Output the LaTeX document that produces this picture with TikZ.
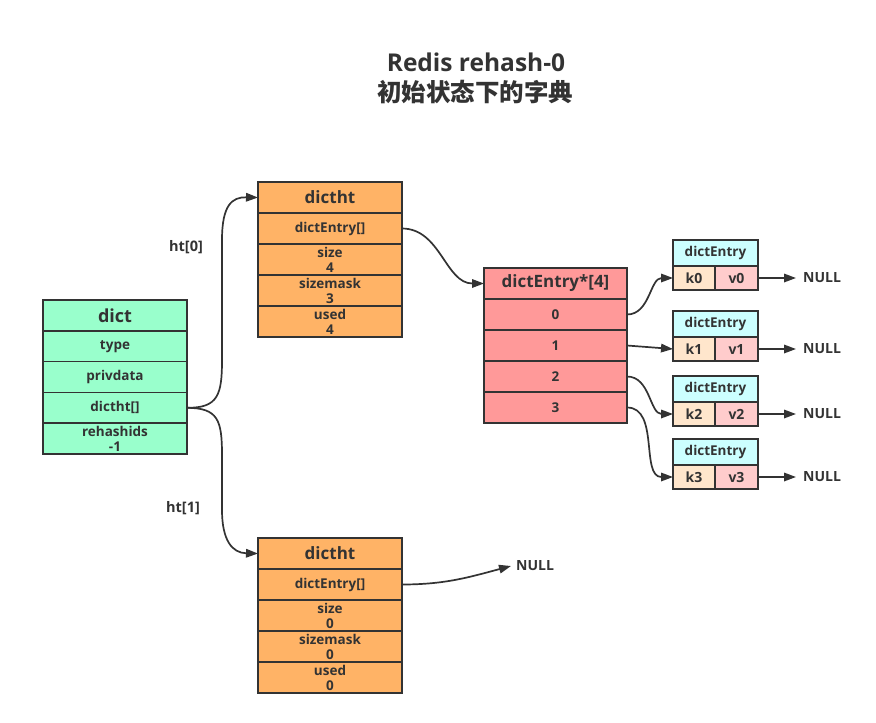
\documentclass[tikz,border=0pt]{standalone}
\usepackage{fontspec}
\setmainfont{Open Sans}
\newfontfamily\cjk{Noto Sans CJK SC}
\usetikzlibrary{arrows.meta}
\definecolor{lc}{HTML}{333333}
\definecolor{dictc}{HTML}{99FFCC}
\definecolor{htc}{HTML}{FFB366}
\definecolor{arrc}{HTML}{FF9999}
\definecolor{dec}{HTML}{CCFFFF}
\definecolor{kc}{HTML}{FFE6CC}
\definecolor{vc}{HTML}{FFCCCC}
\begin{document}
\begin{tikzpicture}[x=1pt,y=-1pt,
  cell/.style={draw=lc, line width=1.7pt, anchor=north west, inner sep=0pt, outer sep=0pt,
    text=lc, align=center, font=\bfseries\fontsize{13.5}{15}\selectfont},
  hdr/.style={font=\bfseries\fontsize{17}{19}\selectfont},
  dcell/.style={cell, fill=dictc, minimum width=144pt, minimum height=30.8pt},
  hcell/.style={cell, fill=htc, minimum width=144pt, minimum height=31pt},
  acell/.style={cell, fill=arrc, minimum width=143pt, minimum height=31pt},
  ecell/.style={cell, fill=dec, minimum width=85pt, minimum height=26pt, font=\bfseries\fontsize{13.5}{15}\selectfont},
  kcell/.style={cell, fill=kc, minimum width=42pt, minimum height=24pt, font=\bfseries\fontsize{14}{15}\selectfont},
  vcell/.style={cell, fill=vc, minimum width=43pt, minimum height=24pt, font=\bfseries\fontsize{14}{15}\selectfont},
  lbl/.style={text=lc, font=\bfseries\fontsize{14.5}{16}\selectfont, inner sep=2pt},
  nul/.style={text=lc, font=\bfseries\fontsize{14}{16}\selectfont, inner sep=0pt, anchor=west},
  conn/.style={draw=lc, line width=1.7pt, -{Triangle[length=12pt,width=8.5pt]}}
]
\useasboundingbox[fill=white] (0,0) rectangle (876,723);

% title
\node[text=lc, font=\bfseries\fontsize{24.5}{27}\selectfont] (t1) at (476,62) {Redis rehash-0};
\node[text=lc, font=\cjk\bfseries\fontsize{24.5}{27}\selectfont] (t2) at (475,92) {初始状态下的字典};

% dict
\node[dcell, font=\bfseries\fontsize{18}{20}\selectfont] (d0) at (43,300) {dict};
\node[dcell] (d1) at (43,330.8) {type};
\node[dcell] (d2) at (43,361.6) {privdata};
\node[dcell] (d3) at (43,392.4) {dictht[]};
\node[dcell] (d4) at (43,423.2) {rehashids\\-1};

% dictht ht[0]
\node[hcell, hdr] (a0) at (258,182) {dictht};
\node[hcell] (a1) at (258,213) {dictEntry[]};
\node[hcell] (a2) at (258,244) {size\\4};
\node[hcell] (a3) at (258,275) {sizemask\\3};
\node[hcell] (a4) at (258,306) {used\\4};

% dictht ht[1]
\node[hcell, hdr] (b0) at (258,538) {dictht};
\node[hcell] (b1) at (258,569) {dictEntry[]};
\node[hcell] (b2) at (258,600) {size\\0};
\node[hcell] (b3) at (258,631) {sizemask\\0};
\node[hcell] (b4) at (258,662) {used\\0};

% dictEntry*[4]
\node[acell, hdr] (r0) at (484,268) {dictEntry*[4]};
\node[acell] (r1) at (484,299) {0};
\node[acell] (r2) at (484,330) {1};
\node[acell] (r3) at (484,361) {2};
\node[acell] (r4) at (484,392) {3};

% dictEntry boxes
\foreach \i/\y in {0/240,1/311,2/376,3/439}{
  \node[ecell] (e\i) at (673,\y) {dictEntry};
  \node[kcell] (k\i) at (673,\y+26) {k\i};
  \node[vcell] (v\i) at (715,\y+26) {v\i};
}

% NULL labels
\node[nul] (n0) at (803,278) {NULL};
\node[nul] (n1) at (803,349) {NULL};
\node[nul] (n2) at (803,414) {NULL};
\node[nul] (n3) at (803,477) {NULL};
\node[nul] (nb) at (516,566) {NULL};

% labels
\node[lbl] (l0) at (186,247) {ht[0]};
\node[lbl] (l1) at (183,508) {ht[1]};

% connectors
\draw[conn] (d3.east) .. controls (218,408) and (222,395) .. (222,360)
  -- (222,240) .. controls (222,205) and (232,197) .. (a0.west);
\draw[conn] (d3.east) .. controls (218,408) and (222,420) .. (222,455)
  -- (222,510) .. controls (222,540) and (232,553) .. (b0.west);
\draw[conn] (a1.east) to[out=0,in=180] (r0.west);
\draw[conn] (r1.east) to[out=0,in=180] (k0.west);
\draw[conn] (r2.east) -- (k1.west);
\draw[conn] (r3.east) to[out=0,in=180] (k2.west);
\draw[conn] (r4.east) to[out=0,in=180] (k3.west);
\draw[conn] (b1.east) to[out=0,in=195] ([xshift=-5pt]nb.west);
\foreach \i in {0,1,2,3}{
  \draw[conn] (v\i.east) -- ([xshift=-7pt]n\i.west);
}
\end{tikzpicture}
\end{document}
